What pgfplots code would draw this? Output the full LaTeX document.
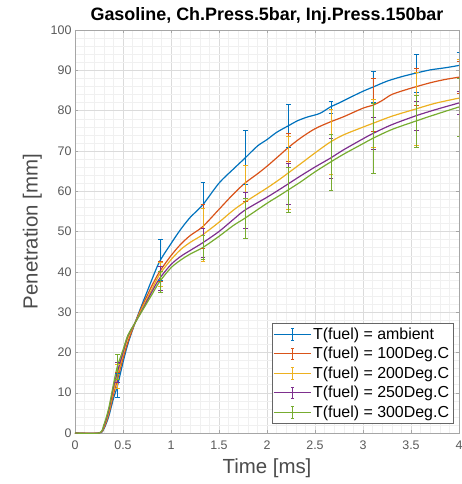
\documentclass[border=0pt]{standalone}
\usepackage{pgfplots}
\pgfplotsset{compat=1.18}
\usepackage{fontspec}
\setmainfont{Liberation Sans}
\definecolor{mblue}{rgb}{0,0.447,0.741}
\definecolor{morange}{rgb}{0.85,0.325,0.098}
\definecolor{myellow}{rgb}{0.929,0.694,0.125}
\definecolor{mpurple}{rgb}{0.494,0.184,0.556}
\definecolor{mgreen}{rgb}{0.466,0.674,0.188}
\pgfplotsset{
  ebar/.style={draw=none, mark=none, forget plot,
    error bars/.cd, y dir=both, y explicit,
    error bar style={line width=0.55pt, draw=#1, solid},
    error mark options={rotate=90, mark size=2.3pt, line width=0.7pt, draw=#1}},
  curve/.style={line width=1.2pt, color=#1, smooth, mark=none},
}
\begin{document}
\begin{tikzpicture}
\begin{axis}[
  width=384bp, height=403bp, scale only axis,
  xmin=0, xmax=4, ymin=0, ymax=100,
  xtick={0,0.5,...,4}, ytick={0,10,...,100},
  minor x tick num=4, minor y tick num=4,
  grid=both,
  major grid style={gray!28, line width=0.4pt},
  minor grid style={gray!12, line width=0.3pt},
  axis line style={gray!70},
  tick style={gray!70},
  tick align=inside,
  major tick length=3pt, minor tick length=0pt,
  /pgf/number format/assume math mode=true,
  ticklabel style={font=\fontsize{12.5}{15}\selectfont, text=black!65},
  xticklabel style={yshift=-4pt},
  title={\bfseries Gasoline, Ch.Press.5bar, Inj.Press.150bar},
  title style={font=\fontsize{18}{21}\selectfont, yshift=-4pt},
  xlabel={Time [ms]}, ylabel={Penetration [mm]},
  label style={font=\fontsize{20.5}{24}\selectfont, text=black!70},
  xlabel style={yshift=-3pt},
  ylabel style={yshift=2pt},
  legend style={at={(0.985,0.025)}, anchor=south east,
    font=\fontsize{16}{19}\selectfont, draw=black!60, fill=white,
    row sep=2.5pt, inner sep=2pt},
  legend cell align=left,
  legend image code/.code={
    \draw[#1, line width=0.5pt] (0cm,0cm) -- (1.3cm,0cm);
    \draw[#1, line width=0.6pt] (0.65cm,-0.2cm) -- (0.65cm,0.2cm);
    \draw[#1, line width=0.6pt] (0.6cm,-0.2cm) -- (0.7cm,-0.2cm);
    \draw[#1, line width=0.6pt] (0.6cm,0.2cm) -- (0.7cm,0.2cm);
  },
]
% ambient
\addplot[curve=mblue] coordinates {(0,0)(0.25,0)(0.3,1)(0.35,4)(0.4,8.5)(0.44,11.5)(0.5,17.5)(0.55,22)(0.625,27.3)(0.7,32)(0.75,35)(0.8,38)(0.88,42.5)(1.0,47)(1.1,50.5)(1.2,53.5)(1.33,56.6)(1.5,62)(1.65,65.5)(1.77,68.2)(1.9,71.2)(2.0,72.8)(2.1,74.6)(2.22,76.2)(2.32,77.5)(2.42,78.4)(2.55,79.3)(2.66,80.9)(2.76,82)(2.86,83.2)(3.0,84.8)(3.11,85.9)(3.25,87.3)(3.4,88.4)(3.55,89.3)(3.7,90.1)(3.85,90.6)(4.0,91.2)};
\addlegendentry{T(fuel) = ambient}
% 100
\addplot[curve=morange] coordinates {(0,0)(0.25,0)(0.3,1.2)(0.35,4.5)(0.4,9.5)(0.44,13)(0.5,18.5)(0.55,22.5)(0.625,27.3)(0.7,31.5)(0.75,34)(0.8,36.5)(0.88,40)(1.0,44)(1.1,46.8)(1.2,49)(1.33,51.2)(1.5,55.5)(1.65,59.3)(1.77,62)(1.9,64.3)(2.0,66.2)(2.135,69)(2.22,70.8)(2.35,73.2)(2.5,75.5)(2.66,77.2)(2.8,78.5)(3.0,80.6)(3.11,81.4)(3.2,82.5)(3.3,84)(3.45,85.2)(3.55,85.9)(3.7,86.9)(3.85,87.7)(4.0,88.3)};
\addlegendentry{T(fuel) = 100Deg.C}
% 200
\addplot[curve=myellow] coordinates {(0,0)(0.25,0)(0.3,1.5)(0.35,5)(0.4,10.5)(0.44,14)(0.5,19.5)(0.55,23.5)(0.625,27.3)(0.7,31)(0.75,33.3)(0.8,35.6)(0.88,39.3)(1.0,43)(1.1,45.5)(1.2,47.3)(1.33,49.2)(1.5,52.3)(1.65,55.3)(1.77,57.3)(2.0,60.8)(2.135,63)(2.22,64.5)(2.35,66.8)(2.5,69.5)(2.66,72.2)(2.8,74)(3.0,75.9)(3.11,76.9)(3.3,78.6)(3.55,80.4)(3.75,81.8)(4.0,83.1)};
\addlegendentry{T(fuel) = 200Deg.C}
% 250
\addplot[curve=mpurple] coordinates {(0,0)(0.25,0)(0.3,1.7)(0.35,5.5)(0.4,11.3)(0.44,15)(0.5,20)(0.55,24)(0.625,27.3)(0.7,30.5)(0.75,32.8)(0.8,35)(0.88,38.3)(1.0,41.8)(1.1,43.8)(1.2,45.3)(1.33,47.2)(1.5,50)(1.65,53)(1.77,55.3)(2.0,58.5)(2.135,60.5)(2.22,61.8)(2.35,63.8)(2.5,66)(2.66,68.2)(2.8,70.3)(3.0,73)(3.11,74.4)(3.3,76.5)(3.55,78.7)(3.75,80.2)(4.0,81.9)};
\addlegendentry{T(fuel) = 250Deg.C}
% 300
\addplot[curve=mgreen] coordinates {(0,0)(0.25,0)(0.3,2)(0.35,6)(0.4,12)(0.44,16.4)(0.5,20.6)(0.55,24.2)(0.625,27.3)(0.7,30.3)(0.75,32.3)(0.8,34.3)(0.88,37.5)(1.0,41)(1.1,42.9)(1.2,44.4)(1.33,46)(1.5,48.8)(1.65,51.5)(1.77,53.3)(2.0,57)(2.135,59)(2.22,60.3)(2.35,62.3)(2.5,64.8)(2.66,67.2)(2.8,69.2)(3.0,71.8)(3.11,73.2)(3.3,75.3)(3.55,77.4)(3.75,79)(4.0,80.9)};
\addlegendentry{T(fuel) = 300Deg.C}
% error bars
\addplot[ebar=mblue] coordinates {(0.444,11.8) +- (0,3) (0.889,43) +- (0,5) (1.333,56.6) +- (0,5.7) (1.778,68.3) +- (0,6.7) (2.222,76.2) +- (0,5.4) (2.667,80.9) +- (0,1.5) (3.111,85.9) +- (0,3.9) (3.556,89.3) +- (0,4.7) (4,91.2) +- (0,3.3)};
\addplot[ebar=morange] coordinates {(0.444,13) +- (0,2) (0.889,40.2) +- (0,2.5) (1.333,51.2) +- (0,5.5) (1.778,62) +- (0,4.5) (2.222,70.8) +- (0,3.5) (2.667,77.2) +- (0,3) (3.111,81.4) +- (0,6.5) (3.556,85.9) +- (0,4.7) (4,88.3) +- (0,4)};
\addplot[ebar=myellow] coordinates {(0.444,14) +- (0,3) (0.889,39.3) +- (0,3) (1.333,49.2) +- (0,6.5) (1.778,57.3) +- (0,9) (2.222,64.5) +- (0,9) (2.667,72.2) +- (0,8) (3.111,76.9) +- (0,6) (3.556,80.4) +- (0,9) (4,83.1) +- (0,9.5)};
\addplot[ebar=mpurple] coordinates {(0.444,15) +- (0,2.5) (0.889,38.3) +- (0,3) (1.333,47.2) +- (0,3.5) (1.778,55.3) +- (0,4.5) (2.222,61.8) +- (0,5) (2.667,68.2) +- (0,5) (3.111,74.4) +- (0,4) (3.556,78.7) +- (0,3.7) (4,81.9) +- (0,2.8)};
\addplot[ebar=mgreen] coordinates {(0.444,16.4) +- (0,3.2) (0.889,37.5) +- (0,2.5) (1.333,46) +- (0,3) (1.778,53.3) +- (0,5) (2.222,60.3) +- (0,5.5) (2.667,67.2) +- (0,7) (3.111,73.2) +- (0,8.7) (3.556,77.4) +- (0,6.5) (4,80.9) +- (0,7.2)};
\end{axis}
\pgfresetboundingbox
\path ([shift={(-75bp,-51bp)}]current axis.south west) rectangle ([shift={(3bp,30bp)}]current axis.north east);
\end{tikzpicture}
\end{document}
